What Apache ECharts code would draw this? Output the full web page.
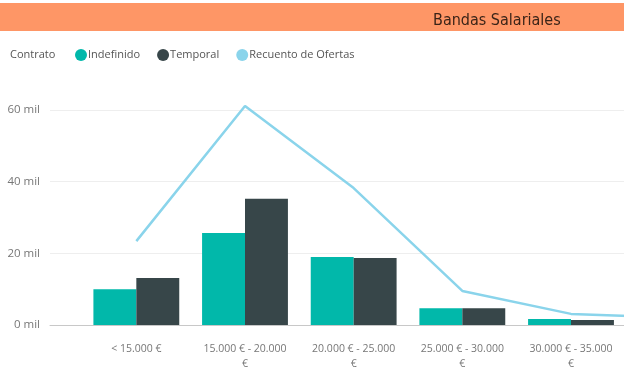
<!DOCTYPE html>
<html>
<head>
<meta charset="utf-8">
<script src="https://cdn.jsdelivr.net/npm/echarts@6/dist/echarts.min.js"></script>
<style>
html,body{margin:0;padding:0;overflow:hidden;background:#fff;width:624px;height:384px;}
#c{width:740px;height:384px;}
</style>
</head>
<body>
<div id="c"></div>
<script>
const categories = ['< 15.000 €', '15.000 € - 20.000 €', '20.000 € - 25.000 €', '25.000 € - 30.000 €', '30.000 € - 35.000 €', '> 35.000 €'];
const indefinido = [10000, 25700, 19000, 4700, 1700, 1000];
const temporal = [13100, 35200, 18700, 4700, 1400, 900];
const recuento = [23400, 61100, 38200, 9500, 3100, 2000];
const yTicks = [0, 20000, 40000, 60000];

const font = "'Segoe UI', 'Open Sans', 'Noto Sans', sans-serif";
const chart = echarts.init(document.getElementById('c'), null, {renderer: 'canvas'});
chart.setOption({
  animation: false,
  textStyle: {fontFamily: font},
  graphic: [
    {type: 'rect', left: 0, top: 3, shape: {width: 740, height: 28}, style: {fill: '#FE9666'}, z: 0}
  ],
  title: [
    {text: 'Bandas Salariales', left: 428, top: 8, textStyle: {fontFamily: "'Liberation Sans Narrow', 'DejaVu Sans Condensed', 'Roboto Condensed', sans-serif", fontSize: 16, fontWeight: 'normal', color: '#3b2418'}},
    {text: 'Contrato', left: 5, top: 44, textStyle: {fontFamily: font, fontSize: 11, fontWeight: 'normal', color: '#555'}}
  ],
  legend: {
    left: 70, top: 44, itemWidth: 12, itemHeight: 12, itemGap: 17, icon: 'circle',
    textStyle: {fontFamily: font, fontSize: 11, color: '#555', padding: [0, 0, 0, -4]},
    data: ['Indefinido', 'Temporal', 'Recuento de Ofertas']
  },
  grid: [
    {left: 50, right: 6, top: 110, bottom: 59},
    {left: 82, right: 6, top: 110, bottom: 59}
  ],
  xAxis: [
    {gridIndex: 0, type: 'value', min: 0, max: 1, show: true, axisLine: {show: true, lineStyle: {color: '#c8c8c8', width: 1}}, axisTick: {show: false}, axisLabel: {show: false}, splitLine: {show: false}},
    {gridIndex: 1, type: 'category', data: categories, boundaryGap: true,
      axisLine: {show: false}, axisTick: {show: false},
      axisLabel: {interval: 0, color: '#777', fontSize: 10.5, lineHeight: 15, margin: 17, fontFamily: font,
        formatter: v => v.replace(/ - (.*) €$/, ' - $1\n€')}}
  ],
  yAxis: [
    {gridIndex: 0, type: 'value', min: 0, max: 60000, interval: 20000,
      axisLine: {show: false}, axisTick: {show: false},
      axisLabel: {color: '#777', fontSize: 11.5, margin: 10, fontFamily: font, formatter: v => yTicks.includes(v) ? (v / 1000) + ' mil' : ''},
      splitLine: {lineStyle: {color: '#eeeeee', width: 1}}},
    {gridIndex: 1, type: 'value', min: 0, max: 60000, interval: 20000, show: false, splitLine: {show: false}}
  ],
  series: [
    {name: 'Indefinido', type: 'bar', xAxisIndex: 1, yAxisIndex: 1, data: indefinido, itemStyle: {color: '#01B8AA'}, barGap: '0%', barCategoryGap: '21%'},
    {name: 'Temporal', type: 'bar', xAxisIndex: 1, yAxisIndex: 1, data: temporal, itemStyle: {color: '#374649'}, barGap: '0%', barCategoryGap: '21%'},
    {name: 'Recuento de Ofertas', type: 'line', xAxisIndex: 1, yAxisIndex: 1, data: recuento, clip: false, showSymbol: false, symbol: 'none', lineStyle: {color: '#8AD4EB', width: 2.5}, itemStyle: {color: '#8AD4EB'}}
  ]
});
</script>
</body>
</html>
